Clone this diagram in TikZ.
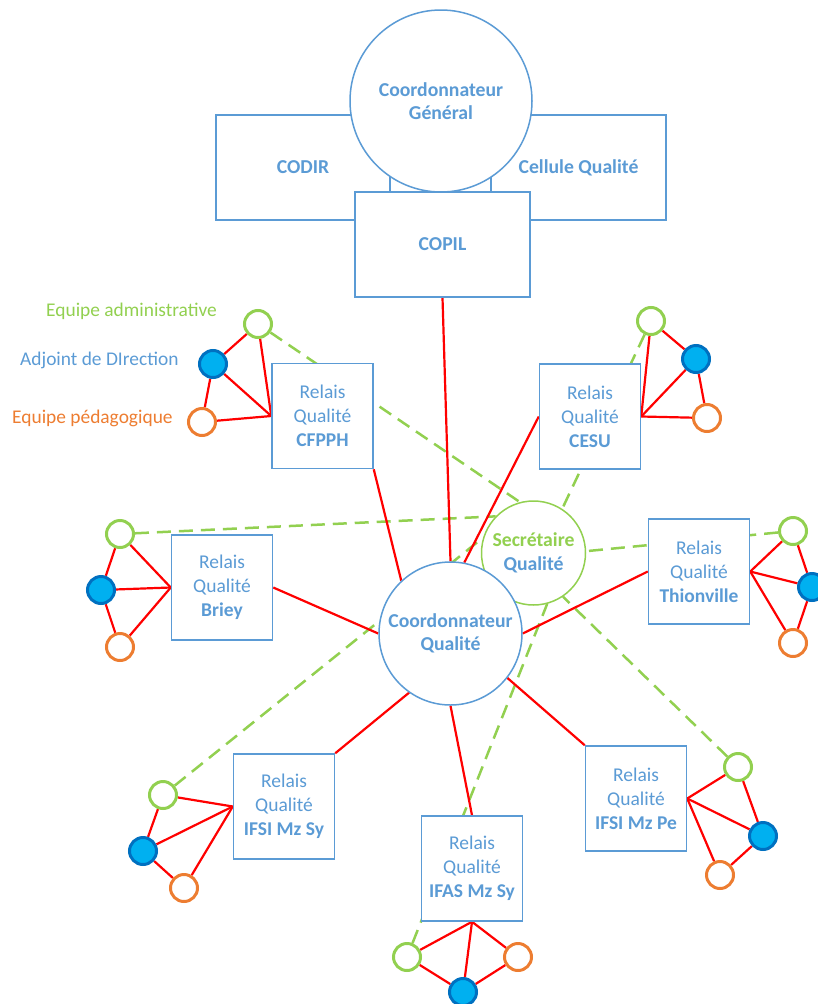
\documentclass[tikz,border=0pt]{standalone}
\usepackage{fontspec}
\setmainfont{Carlito}
\usetikzlibrary{backgrounds}
\definecolor{qblue}{HTML}{5B9BD5}
\definecolor{qgreen}{HTML}{92D050}
\definecolor{qorange}{HTML}{ED7D31}
\definecolor{qred}{HTML}{FF0000}
\definecolor{qcyan}{HTML}{00B0F0}
\definecolor{qdblue}{HTML}{0070C0}
\begin{document}
\begin{tikzpicture}[x=1pt,y=-1pt,
  bigbox/.style={rectangle,draw=qblue,line width=1.5pt,fill=white,inner sep=0pt,
    align=center,text=qblue,font=\fontsize{19.7}{23}\selectfont\bfseries},
  bigcirc/.style={circle,draw=qblue,line width=1.5pt,fill=white,inner sep=0pt,
    align=center,text=qblue,font=\fontsize{19.7}{23}\selectfont\bfseries},
  relais/.style={rectangle,draw=qblue,line width=1.5pt,fill=white,inner sep=0pt,
    minimum width=101pt,minimum height=105pt,align=center,text=qblue,
    font=\fontsize{19.5}{24}\selectfont},
  dotbase/.style={circle,inner sep=0pt,minimum size=27pt,line width=3pt},
  gdot/.style={dotbase,draw=qgreen,fill=white},
  odot/.style={dotbase,draw=qorange,fill=white},
  bdot/.style={dotbase,draw=qdblue,fill=qcyan},
  legend/.style={anchor=west,inner sep=0pt,font=\fontsize{19.4}{23}\selectfont},
  redline/.style={draw=qred,line width=2.2pt},
  greendash/.style={draw=qgreen,line width=2.5pt,dash pattern=on 14pt off 8pt}
]
\useasboundingbox (0,0) rectangle (817,1004);

% top group
\node[bigbox,minimum width=174pt,minimum height=105pt] (codir) at (303,167.5) {CODIR};
\node[bigbox,minimum width=175pt,minimum height=105pt] (cell) at (578.5,167.5) {Cellule Qualité};
\node[bigcirc,minimum size=182pt] (cg) at (441,101) {Coordonnateur\\Général};
\node[bigbox,minimum width=175pt,minimum height=105pt] (copil) at (442.5,244.5) {COPIL};

% central circles
\node[circle,draw=qgreen,line width=1.5pt,fill=white,inner sep=0pt,minimum size=104pt,
  align=center,font=\fontsize{19.7}{24}\selectfont\bfseries] (sec) at (533.5,553)
  {\textcolor{qgreen}{Secrétaire}\\\textcolor{qblue}{Qualité}};
\node[bigcirc,minimum size=143pt] (cq) at (450.5,633.5) {Coordonnateur\\Qualité};

% relais boxes
\node[relais] (r1) at (322.5,416) {Relais\\Qualité\\\textbf{CFPPH}};
\node[relais] (r2) at (590,416.5) {Relais\\Qualité\\\textbf{CESU}};
\node[relais] (r3) at (699,571.5) {Relais\\Qualité\\\textbf{Thionville}};
\node[relais] (r4) at (222,587.5) {Relais\\Qualité\\\textbf{Briey}};
\node[relais] (r5) at (284,806.5) {Relais\\Qualité\\\textbf{IFSI Mz Sy}};
\node[relais] (r6) at (472,868.5) {Relais\\Qualité\\\textbf{IFAS Mz Sy}};
\node[relais] (r7) at (636,798.5) {Relais\\Qualité\\\textbf{IFSI Mz Pe}};

% legend
\node[legend,text=qgreen] (lg1) at (46,311) {Equipe administrative};
\node[legend,text=qblue] (lg2) at (20,360) {Adjoint de DIrection};
\node[legend,text=qorange] (lg3) at (12,418) {Equipe pédagogique};

% clusters
\node[gdot] (g1) at (258,324) {};
\node[bdot] (b1) at (213,364) {};
\node[odot] (o1) at (202,422) {};

\node[gdot] (g2) at (651,321) {};
\node[bdot] (b2) at (696,359) {};
\node[odot] (o2) at (707,418) {};

\node[gdot] (g3) at (793,531) {};
\node[bdot] (b3) at (812,587) {};
\node[odot] (o3) at (793,643) {};

\node[gdot] (g4) at (120,534) {};
\node[bdot] (b4) at (101,590) {};
\node[odot] (o4) at (120,647) {};

\node[gdot] (g5) at (163,795) {};
\node[bdot] (b5) at (143,851) {};
\node[odot] (o5) at (184,888) {};

\node[gdot] (g6) at (407,957) {};
\node[bdot] (b6) at (463,992) {};
\node[odot] (o6) at (518,957) {};

\node[gdot] (g7) at (738,767) {};
\node[bdot] (b7) at (763,836) {};
\node[odot] (o7) at (720,875) {};

\begin{scope}[on background layer]
  % dashed links to the secretary
  \draw[greendash] (g1) -- (sec.105);
  \draw[greendash] (g2) -- (sec.57);
  \draw[greendash] (g3) -- (sec.2);
  \draw[greendash] (g4) -- (sec.136);
  \draw[greendash] (g5) -- (sec.163);
  \draw[greendash] (g6) -- (sec.-75);
  \draw[greendash] (g7) -- (sec.-56);
  % red links to the coordinator
  \draw[redline] (copil.south) -- (cq.90);
  \draw[redline] (r1.south east) -- (cq.133);
  \draw[redline] (r2.west) -- (cq.79);
  \draw[redline] (r3.west) -- (cq.0);
  \draw[redline] (r4.east) -- (cq.180);
  \draw[redline] (r5.north east) -- (cq.235);
  \draw[redline] (r6.north) -- (cq.270);
  \draw[redline] (r7.north west) -- (cq.-38);
  % clusters
  \draw[redline] (g1) -- (b1) -- (o1);
  \draw[redline] (g1) -- (r1.west); \draw[redline] (b1) -- (r1.west); \draw[redline] (o1) -- (r1.west);
  \draw[redline] (g2) -- (b2) -- (o2);
  \draw[redline] (g2) -- (r2.east); \draw[redline] (b2) -- (r2.east); \draw[redline] (o2) -- (r2.east);
  \draw[redline] (g3) -- (b3) -- (o3);
  \draw[redline] (g3) -- (r3.east); \draw[redline] (b3) -- (r3.east); \draw[redline] (o3) -- (r3.east);
  \draw[redline] (g4) -- (b4) -- (o4);
  \draw[redline] (g4) -- (r4.west); \draw[redline] (b4) -- (r4.west); \draw[redline] (o4) -- (r4.west);
  \draw[redline] (g5) -- (b5) -- (o5);
  \draw[redline] (g5) -- (r5.west); \draw[redline] (b5) -- (r5.west); \draw[redline] (o5) -- (r5.west);
  \draw[redline] (g6) -- (b6) -- (o6);
  \draw[redline] (g6) -- (r6.south); \draw[redline] (b6) -- (r6.south); \draw[redline] (o6) -- (r6.south);
  \draw[redline] (g7) -- (b7) -- (o7);
  \draw[redline] (g7) -- (r7.east); \draw[redline] (b7) -- (r7.east); \draw[redline] (o7) -- (r7.east);
\end{scope}
\end{tikzpicture}
\end{document}
